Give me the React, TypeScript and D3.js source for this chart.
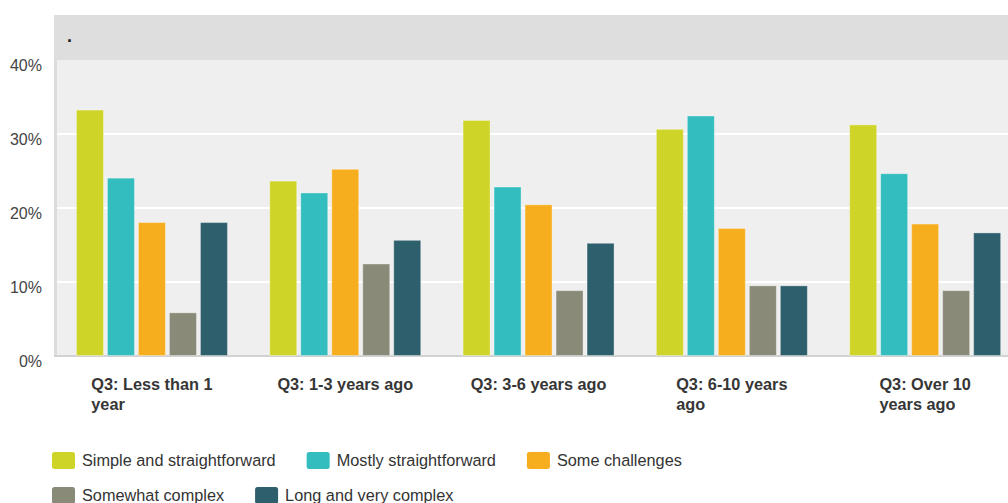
import React, { useEffect, useRef } from 'react';
import * as d3 from 'd3';

const categories = [
  'Q3: Less than 1 year',
  'Q3: 1-3 years ago',
  'Q3: 3-6 years ago',
  'Q3: 6-10 years ago',
  'Q3: Over 10 years ago',
];
const seriesNames = [
  'Simple and straightforward',
  'Mostly straightforward',
  'Some challenges',
  'Somewhat complex',
  'Long and very complex',
];
const seriesColors = ['#cfd428', '#33bdbf', '#f6ae1f', '#8a8a79', '#2e5f6c'];
const simpleValues = [33.3, 23.7, 31.9, 30.7, 31.3];
const mostlyValues = [24.1, 22.1, 22.9, 32.5, 24.7];
const challengesValues = [18.1, 25.3, 20.5, 17.3, 17.9];
const somewhatValues = [5.9, 12.5, 8.9, 9.55, 8.9];
const longValues = [18.1, 15.7, 15.3, 9.55, 16.7];
const yTicks = [0, 10, 20, 30, 40];
const chartTitle = '.';

const FONT = '"Liberation Sans", Arial, sans-serif';
const FS = 16.3;

export default function App() {
  const ref = useRef<SVGSVGElement | null>(null);

  useEffect(() => {
    const svg = d3.select(ref.current);
    svg.selectAll('*').remove();

    const W = 1008;
    const plotLeft = 54;
    const plotTop = 60;
    const headerTop = 15;
    const baseY = 356;

    const seriesValues = [simpleValues, mostlyValues, challengesValues, somewhatValues, longValues];

    const y = d3.scaleLinear().domain([0, 40]).range([baseY, plotTop]);
    const step = 193.3;
    const pad = 41.3 / step;
    const x0 = d3
      .scaleBand<string>()
      .domain(categories)
      .range([55.3, 55.3 + step * categories.length])
      .paddingInner(pad)
      .paddingOuter(pad / 2);
    const x1 = d3
      .scaleBand<string>()
      .domain(seriesNames)
      .range([0, x0.bandwidth()])
      .paddingInner(3 / 31)
      .paddingOuter(0);

    // header band
    svg.append('rect').attr('x', plotLeft).attr('y', headerTop).attr('width', W - plotLeft).attr('height', plotTop - headerTop).attr('fill', '#dedede');
    // plot background with left border
    svg.append('rect').attr('x', plotLeft).attr('y', plotTop).attr('width', W - plotLeft).attr('height', baseY - plotTop).attr('fill', '#dcdcdc');
    svg.append('rect').attr('x', plotLeft + 3).attr('y', plotTop).attr('width', W - plotLeft - 3).attr('height', baseY - plotTop).attr('fill', '#efefef');

    // title dot
    svg.append('text').attr('x', 67).attr('y', 42).attr('font-family', FONT).attr('font-size', 18).attr('font-weight', 'bold').attr('fill', '#222').text(chartTitle);

    // gridlines
    svg
      .selectAll('line.grid')
      .data(yTicks.filter((t) => t > 0 && t < 40))
      .enter()
      .append('line')
      .attr('x1', plotLeft + 3)
      .attr('x2', W)
      .attr('y1', (d) => y(d))
      .attr('y2', (d) => y(d))
      .attr('stroke', '#ffffff')
      .attr('stroke-width', 2);

    // baseline
    svg.append('line').attr('x1', plotLeft).attr('x2', W).attr('y1', baseY).attr('y2', baseY).attr('stroke', '#d2d2d2').attr('stroke-width', 2);

    // y tick labels
    svg
      .selectAll('text.ytick')
      .data(yTicks)
      .enter()
      .append('text')
      .attr('x', 42)
      .attr('y', (d) => y(d) + 11)
      .attr('text-anchor', 'end')
      .attr('font-family', FONT)
      .attr('font-size', 16)
      .attr('fill', '#444')
      .text((d) => `${d}%`);

    // bars
    const groups = svg
      .selectAll('g.cat')
      .data(categories)
      .enter()
      .append('g')
      .attr('transform', (c) => `translate(${x0(c)},0)`);

    groups.each(function (c, ci) {
      const g = d3.select(this);
      seriesNames.forEach((s, si) => {
        const v = seriesValues[si][ci];
        g.append('rect')
          .attr('x', x1(s)! + 0.5)
          .attr('y', y(v) + 0.5)
          .attr('width', x1.bandwidth() - 1)
          .attr('height', baseY - y(v) - 1)
          .attr('fill', seriesColors[si])
          .attr('stroke', 'rgba(255,255,255,0.35)')
          .attr('stroke-width', 1);
      });
    });

    // category labels with wrapping
    const maxW = 138;
    categories.forEach((c) => {
      const cx = x0(c)! + x0.bandwidth() / 2;
      const t = svg
        .append('text')
        .attr('font-family', FONT)
        .attr('font-size', FS)
        .attr('font-weight', 'bold')
        .attr('fill', '#363636');
      const words = c.split(' ');
      const lines: string[] = [];
      let cur: string[] = [];
      const measure = t.append('tspan');
      words.forEach((w) => {
        const test = [...cur, w].join(' ');
        measure.text(test);
        if ((measure.node() as SVGTextContentElement).getComputedTextLength() > maxW && cur.length) {
          lines.push(cur.join(' '));
          cur = [w];
        } else {
          cur.push(w);
        }
      });
      if (cur.length) lines.push(cur.join(' '));
      measure.remove();
      let widest = 0;
      const spans = lines.map((l, i) => {
        const sp = t.append('tspan').attr('y', 390 + i * 20).text(l);
        widest = Math.max(widest, (sp.node() as SVGTextContentElement).getComputedTextLength());
        return sp;
      });
      spans.forEach((sp) => sp.attr('x', cx - widest / 2));
    });

    // legend
    const legendLeft = 52;
    const legendMax = 720;
    let lx = legendLeft;
    let row = 0;
    seriesNames.forEach((s, i) => {
      const g = svg.append('g');
      const txt = g
        .append('text')
        .attr('font-family', FONT)
        .attr('font-size', FS)
        .attr('fill', '#333')
        .text(s);
      const tw = (txt.node() as SVGTextContentElement).getComputedTextLength();
      const itemW = 23 + 7 + tw;
      if (lx + itemW > legendMax && lx > legendLeft) {
        lx = legendLeft;
        row += 1;
      }
      const top = 452 + row * 35;
      g.insert('rect', 'text')
        .attr('x', lx)
        .attr('y', top)
        .attr('width', 23)
        .attr('height', 17)
        .attr('rx', 2.5)
        .attr('fill', seriesColors[i]);
      txt.attr('x', lx + 30).attr('y', top + 14);
      lx += itemW + 31;
    });
  }, []);

  return (
    <svg
      ref={ref}
      width={1008}
      height={503}
      style={{ position: 'absolute', left: 0, top: 0, display: 'block', background: '#ffffff' }}
    />
  );
}
